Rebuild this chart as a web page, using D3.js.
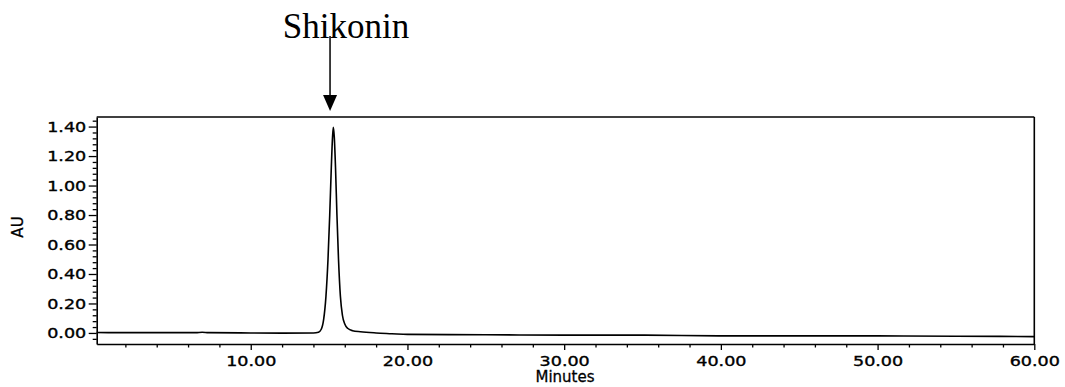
<!DOCTYPE html>
<html>
<head>
<meta charset="utf-8">
<script src="https://cdn.jsdelivr.net/npm/d3@7/dist/d3.min.js"></script>
<style>
  html, body { margin: 0; padding: 0; background: #fff; }
  svg { display: block; }
</style>
</head>
<body>
<svg id="chart" width="1065" height="387"></svg>
<script>
// Chromatogram trace: retention time (min) and detector response (AU)
const retentionTime = [0.17, 2, 4, 6.5, 6.9, 7.3, 10, 12, 14.0, 14.32, 14.50, 14.65, 14.80, 14.93, 15.04, 15.14, 15.22, 15.27,
  15.33, 15.41, 15.50, 15.60, 15.72, 15.85, 16.0, 16.2, 16.5, 17, 18, 19, 20, 25, 30, 35, 40, 45, 50, 55, 60];
const absorbance = [0.003, 0.002, 0.002, 0.002, 0.005, 0.002, 0.0, -0.001, 0.0, 0.005, 0.025, 0.09, 0.25, 0.50, 0.80, 1.12, 1.33, 1.395,
  1.33, 1.12, 0.80, 0.50, 0.25, 0.12, 0.06, 0.03, 0.015, 0.008, 0.0, -0.005, -0.01, -0.012, -0.015, -0.015, -0.02, -0.02, -0.02, -0.022, -0.025];

// Axis settings
const xTicks = [10, 20, 30, 40, 50, 60];
const xMinorTicks = [2, 4, 6, 8, 12, 14, 16, 18, 22, 24, 26, 28, 32, 34, 36, 38, 42, 44, 46, 48, 52, 54, 56, 58];
const yTicks = [0.0, 0.2, 0.4, 0.6, 0.8, 1.0, 1.2, 1.4];
const yMinorTicks = [-0.04, 0.04, 0.08, 0.12, 0.16, 0.24, 0.28, 0.32, 0.36, 0.44, 0.48, 0.52, 0.56,
  0.64, 0.68, 0.72, 0.76, 0.84, 0.88, 0.92, 0.96, 1.04, 1.08, 1.12, 1.16, 1.24, 1.28, 1.32, 1.36, 1.44];
const xDomain = [0.17, 60];
const yDomain = [-0.075, 1.465];

// Peak annotation
const peakName = "Shikonin";
const peakTime = 15.06;

const svg = d3.select("#chart");
const x = d3.scaleLinear().domain(xDomain).range([96.7, 1034.3]);
const y = d3.scaleLinear().domain(yDomain).range([344, 117]);

const tickFont = "'DejaVu Sans', sans-serif";
const stretch = 1.3;

// Frame: top and right edges
svg.append("line")
  .attr("x1", x(xDomain[0])).attr("x2", x(xDomain[1]))
  .attr("y1", y(yDomain[1])).attr("y2", y(yDomain[1]))
  .attr("stroke", "#000").attr("stroke-width", 1.6);
svg.append("line")
  .attr("x1", x(xDomain[1])).attr("x2", x(xDomain[1]))
  .attr("y1", y(yDomain[1])).attr("y2", y(yDomain[0]))
  .attr("stroke", "#000").attr("stroke-width", 1.6);

// X axis
const xAxis = svg.append("g")
  .attr("transform", `translate(0,${y(yDomain[0])})`)
  .call(d3.axisBottom(x).tickValues(xTicks).tickSize(6).tickSizeOuter(0).tickFormat(d3.format(".2f")));
svg.append("g")
  .attr("transform", `translate(0,${y(yDomain[0])})`)
  .call(d3.axisBottom(x).tickValues(xMinorTicks).tickSize(3.5).tickSizeOuter(0).tickFormat(""))
  .call(g => g.select(".domain").remove());

// Y axis
const yAxis = svg.append("g")
  .attr("transform", `translate(${x(xDomain[0])},0)`)
  .call(d3.axisLeft(y).tickValues(yTicks).tickSize(8).tickSizeOuter(0).tickFormat(d3.format(".2f")));
svg.append("g")
  .attr("transform", `translate(${x(xDomain[0])},0)`)
  .call(d3.axisLeft(y).tickValues(yMinorTicks).tickSize(4).tickSizeOuter(0).tickFormat(""))
  .call(g => g.select(".domain").remove());

svg.selectAll(".domain").attr("stroke-width", 1.6);
svg.selectAll(".tick line").attr("stroke-width", 1.3);

xAxis.selectAll("text")
  .attr("font-family", tickFont).attr("font-size", 13.5).attr("fill", "#000")
  .attr("stroke", "#000").attr("stroke-width", 0.35)
  .attr("y", 22).attr("dy", 0)
  .attr("transform", `scale(${stretch},1)`);
yAxis.selectAll("text")
  .attr("font-family", tickFont).attr("font-size", 13.5).attr("fill", "#000")
  .attr("stroke", "#000").attr("stroke-width", 0.35)
  .attr("x", -10.5 / stretch).attr("dy", "0.36em")
  .attr("transform", `scale(${stretch},1)`);

// Axis titles
svg.append("text")
  .attr("x", 565).attr("y", 382)
  .attr("text-anchor", "middle")
  .attr("font-family", tickFont).attr("font-size", 15)
  .attr("stroke", "#000").attr("stroke-width", 0.3)
  .text("Minutes");
svg.append("text")
  .attr("transform", "translate(23,227) rotate(-90)")
  .attr("text-anchor", "middle")
  .attr("font-family", tickFont).attr("font-size", 15)
  .attr("stroke", "#000").attr("stroke-width", 0.3)
  .text("AU");

// Chromatogram trace
const line = d3.line()
  .x((d, i) => x(retentionTime[i]))
  .y(d => y(d))
  .curve(d3.curveMonotoneX);
svg.append("path")
  .datum(absorbance)
  .attr("d", line)
  .attr("fill", "none")
  .attr("stroke", "#000")
  .attr("stroke-width", 1.6);

// Peak label with arrow
const ax = x(peakTime);
svg.append("text")
  .attr("x", 346).attr("y", 38)
  .attr("text-anchor", "middle")
  .attr("font-family", "'Liberation Serif', 'Times New Roman', serif")
  .attr("font-size", 35)
  .text(peakName);
svg.append("line")
  .attr("x1", ax).attr("x2", ax)
  .attr("y1", 36).attr("y2", 98)
  .attr("stroke", "#000").attr("stroke-width", 1.5);
svg.append("path")
  .attr("d", `M${ax},111 L${ax - 7},95 L${ax + 7},95 Z`)
  .attr("fill", "#000");
</script>
</body>
</html>
